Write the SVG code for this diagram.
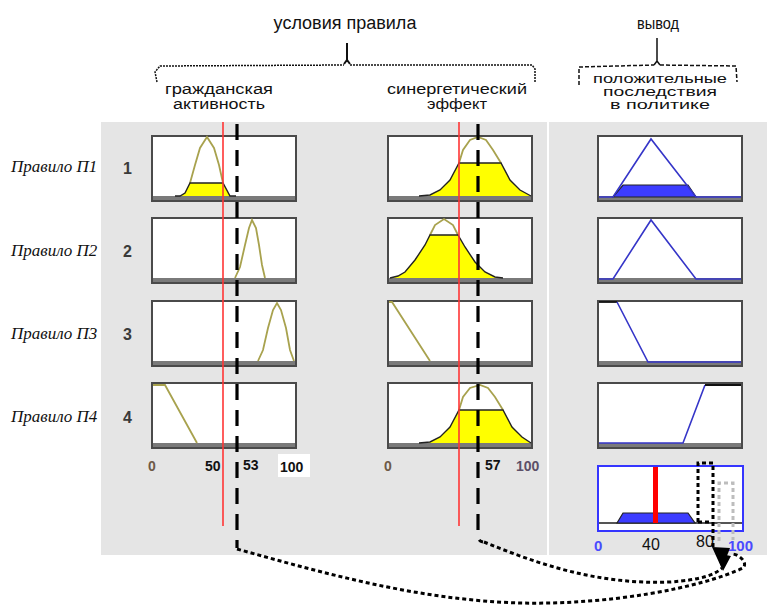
<svg xmlns="http://www.w3.org/2000/svg" width="767" height="606" viewBox="0 0 767 606">
<defs>
<style>
.t{font-family:"Liberation Sans",Arial,sans-serif;fill:#111}
.rl{font-family:"Liberation Serif","Times New Roman",serif;font-style:italic;font-size:17px;fill:#111}
.num{font-family:"Liberation Sans",Arial,sans-serif;font-weight:bold;font-size:16px;fill:#3a3a3a}
.ax{font-family:"Liberation Sans",Arial,sans-serif;font-weight:bold;font-size:14px;fill:#111}
.box{fill:#fff;stroke:#4a4a4a;stroke-width:2}
.bar{fill:#7a7a7a}
.ol{fill:none;stroke:#a8a24e;stroke-width:1.8}
.yf{fill:#ffff00;stroke:none}
.ye{fill:none;stroke:#222;stroke-width:1.4}
.bl{fill:none;stroke:#3535c8;stroke-width:1.6}
.bk{fill:none;stroke:#111;stroke-width:1.8}
.bf{fill:#3c3cff;stroke:#222;stroke-width:1.2}
.red{stroke:#ff3535;stroke-width:1.6}
.dash{fill:none;stroke:#000;stroke-width:3.2;stroke-dasharray:16 10}
.dot{fill:none;stroke:#000;stroke-width:3;stroke-dasharray:4 3}
.gdot{fill:none;stroke:#bdbdbd;stroke-width:3;stroke-dasharray:4 3}
</style>
</defs>
<rect x="0" y="0" width="767" height="606" fill="#fff"/>
<rect x="101" y="122" width="666" height="433" fill="#e5e5e5"/>
<line x1="548" y1="122" x2="548" y2="555" stroke="#fff" stroke-width="2"/>

<g id="header">
<text class="t" x="345" y="29" font-size="18" text-anchor="middle">условия правила</text>
<path d="M347,43 L347,62 M344,64 L347,60 L350,64" fill="none" stroke="#111" stroke-width="2"/>
<path d="M157,82 L155,72 L160,66 L344,65 M350,65 L532,65 L535,69 L535,82" fill="none" stroke="#111" stroke-width="1.5" stroke-dasharray="2 1"/>
<text class="t" x="219" y="94" font-size="14" text-anchor="middle" textLength="108" lengthAdjust="spacingAndGlyphs">гражданская</text>
<text class="t" x="219" y="109" font-size="14" text-anchor="middle" textLength="92" lengthAdjust="spacingAndGlyphs">активность</text>
<text class="t" x="457" y="94" font-size="14" text-anchor="middle" textLength="140" lengthAdjust="spacingAndGlyphs">синергетический</text>
<text class="t" x="457" y="109" font-size="14" text-anchor="middle" textLength="60" lengthAdjust="spacingAndGlyphs">эффект</text>
<text class="t" x="658" y="29" font-size="16" text-anchor="middle" textLength="42" lengthAdjust="spacingAndGlyphs">вывод</text>
<path d="M657,38 L657,62 M654,65 L657,61 L660,65" fill="none" stroke="#111" stroke-width="1.5"/>
<path d="M579,85 L579,67 L654,65 M660,65 L736,66 L737,82" fill="none" stroke="#111" stroke-width="1.5" stroke-dasharray="4 2"/>
<text class="t" x="660" y="83" font-size="12.5" text-anchor="middle" textLength="134" lengthAdjust="spacingAndGlyphs">положительные</text>
<text class="t" x="660" y="96" font-size="12.5" text-anchor="middle" textLength="114" lengthAdjust="spacingAndGlyphs">последствия</text>
<text class="t" x="660" y="109" font-size="12.5" text-anchor="middle" textLength="100" lengthAdjust="spacingAndGlyphs">в политике</text>
</g>

<g id="rule-labels">
<text class="rl" x="11" y="172">Правило П1</text>
<text class="rl" x="11" y="256">Правило П2</text>
<text class="rl" x="11" y="339">Правило П3</text>
<text class="rl" x="11" y="422">Правило П4</text>
<text class="num" x="123" y="174">1</text>
<text class="num" x="123" y="257">2</text>
<text class="num" x="123" y="340">3</text>
<text class="num" x="123" y="423">4</text>
</g>

<g id="col1-r1"><rect class="box" x="152" y="136" width="144" height="65"/><rect class="bar" x="153" y="196" width="142" height="4"/>
<polygon class="yf" points="180,196 185,193 190,183 223,183 230,196"/>
<path class="ol" d="M190,183 L195,165 L200,148 L207,137 L214,148 L219,165 L223,183"/>
<path class="ye" d="M175,196 L180,196 L185,193 L190,183 L223,183 L230,196 L236,196"/>
</g>
<g id="col1-r2"><rect class="box" x="152" y="218" width="144" height="65"/><rect class="bar" x="153" y="278" width="142" height="4"/>
<path class="ol" d="M235,278 L240,267 L245,245 L249,228 L252,220 L256,228 L259,245 L262,265 L265,278"/>
</g>
<g id="col1-r3"><rect class="box" x="152" y="301" width="144" height="65"/><rect class="bar" x="153" y="361" width="142" height="4"/>
<path class="ol" d="M258,361 L263,350 L268,328 L273,310 L277,303 L281,310 L286,328 L290,350 L294,361"/>
</g>
<g id="col1-r4"><rect class="box" x="152" y="383" width="144" height="65"/><rect class="bar" x="153" y="443" width="142" height="4"/>
<path class="ol" d="M153,385 L165,385 L197,443"/>
</g>

<g id="col2-r1"><rect class="box" x="388" y="136" width="144" height="65"/><rect class="bar" x="389" y="196" width="142" height="4"/>
<polygon class="yf" points="428,196 440,190 450,180 459,163 501,163 510,180 520,190 531,196"/>
<path class="ol" d="M459,163 L463,150 L470,140 L478,137 L486,140 L493,150 L501,163"/>
<path class="ye" d="M419,196 L430,195 L440,190 L450,180 L459,163 L501,163 L510,180 L520,190 L531,196"/>
</g>
<g id="col2-r2"><rect class="box" x="388" y="218" width="144" height="65"/><rect class="bar" x="389" y="278" width="142" height="4"/>
<polygon class="yf" points="392,278 398,276 405,272 415,260 425,245 430,235 458,235 465,247 475,262 485,272 495,277 503,278"/>
<path class="ol" d="M430,235 L435,225 L444,219 L453,225 L458,235"/>
<path class="ye" d="M390,278 L398,276 L405,272 L415,260 L425,245 L430,235 L458,235 L465,247 L475,262 L485,272 L495,277 L503,278"/>
</g>
<g id="col2-r3"><rect class="box" x="388" y="301" width="144" height="65"/><rect class="bar" x="389" y="361" width="142" height="4"/>
<path class="ol" d="M389,302 L392,302 L430,361"/>
</g>
<g id="col2-r4"><rect class="box" x="388" y="383" width="144" height="65"/><rect class="bar" x="389" y="443" width="142" height="4"/>
<polygon class="yf" points="428,443 440,437 450,427 459,410 503,410 512,427 522,437 531,443"/>
<path class="ol" d="M459,410 L463,397 L470,388 L480,385 L488,388 L495,397 L503,410"/>
<path class="ye" d="M419,443 L430,442 L440,437 L450,427 L459,410 L503,410 L512,427 L522,437 L531,443"/>
</g>

<g id="col3-r1"><rect class="box" x="598" y="136" width="144" height="65"/><rect class="bar" x="599" y="196" width="142" height="4"/>
<polygon class="bf" points="613,197 623,185 688,185 696,197"/>
<path class="bl" d="M599,197 L613,197 L651,139 L696,197 L741,197"/>
</g>
<g id="col3-r2"><rect class="box" x="598" y="218" width="144" height="65"/><rect class="bar" x="599" y="278" width="142" height="4"/>
<path class="bl" d="M599,279 L613,279 L651,220 L696,279 L741,279"/>
</g>
<g id="col3-r3"><rect class="box" x="598" y="301" width="144" height="65"/><rect class="bar" x="599" y="361" width="142" height="4"/>
<path class="bk" d="M599,302 L617,302"/>
<path class="bl" d="M617,302 L648,362 L741,362"/>
</g>
<g id="col3-r4"><rect class="box" x="598" y="383" width="144" height="65"/><rect class="bar" x="599" y="443" width="142" height="4"/>
<path class="bl" d="M599,443 L683,443 L705,385"/>
<path class="bk" d="M705,385 L741,385"/>
</g>

<g id="output">
<rect x="598" y="466" width="145" height="65" fill="#fff" stroke="#3535ff" stroke-width="2"/>
<line x1="599" y1="523" x2="742" y2="523" stroke="#555" stroke-width="2"/>
<polygon class="bf" points="617,523 623,513 688,513 695,523"/>
<rect x="653" y="467" width="5" height="56" fill="#ff0000"/>
</g>

<g id="axes">
<text class="ax" x="148" y="471" style="fill:#6e5a48">0</text>
<text class="ax" x="205" y="471">50</text>
<text class="ax" x="243" y="470">53</text>
<rect x="278" y="454" width="32" height="23" fill="#fff"/>
<text class="ax" x="280" y="472" font-size="15">100</text>
<text class="ax" x="384" y="471" style="fill:#6e5a48">0</text>
<text class="ax" x="485" y="470">57</text>
<text class="ax" x="516" y="471" style="fill:#5c5068">100</text>
<text class="ax" x="594" y="551" style="fill:#4a4aff;font-size:15px">0</text>
<text class="t" x="642" y="550" font-size="16">40</text>
<text class="t" x="696" y="547" font-size="16">80</text>
<text class="ax" x="728" y="551" style="fill:#4a4aff;font-size:15px">100</text>
</g>

<g id="connectors">
<line class="red" x1="223" y1="122" x2="223" y2="526"/>
<line class="red" x1="459" y1="122" x2="459" y2="526"/>
<path class="dash" d="M237,124 L237,548"/>
<path class="dash" d="M478,124 L478,536 Q478,541 483,542"/>
<path class="dot" d="M237,549 C330,575 420,600 520,603 C610,605 700,588 743,568 C748,563 740,555 733,554"/>
<path class="dot" d="M484,542 C540,565 600,585 670,582 C700,580 715,575 722,568"/>
<path class="dot" d="M698,522 L698,463 L713,463 L713,547 M698,522 L712,522"/>
<path class="gdot" d="M719,541 L719,483 L733,483 L733,540"/>
<polygon points="712,547 730,548 722,569" fill="#000"/>
<polygon points="716,553 731,556 723,571" fill="#000"/>
</g>
</svg>
